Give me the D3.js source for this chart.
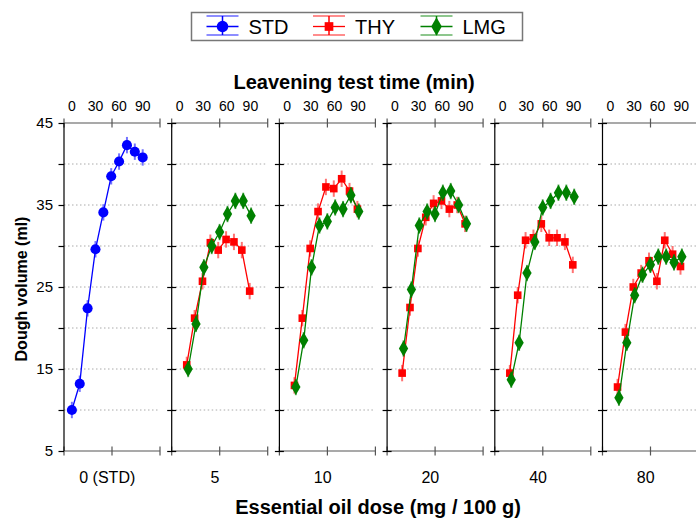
<!DOCTYPE html>
<html>
<head>
<meta charset="utf-8">
<script src="https://cdn.jsdelivr.net/npm/d3@7"></script>
<style>
  body { margin: 0; background: #fff; }
  svg { display: block; font-family: "Liberation Sans", Arial, sans-serif; }
</style>
</head>
<body>
<div id="chart"></div>
<script>
// data
const doses = ['0 (STD)', '5', '10', '20', '40', '80'];
const stdTimes = [0, 10, 20, 30, 40, 50, 60, 70, 80, 90];
const oilTimes = [10, 20, 30, 40, 50, 60, 70, 80, 90];
const timeTicks = [0, 30, 60, 90];
const volTicks = [5, 10, 15, 20, 25, 30, 35, 40, 45];
const volLabels = [5, 15, 25, 35, 45];

const stdVol = [10.0, 13.2, 22.4, 29.6, 34.1, 38.5, 40.3, 42.3, 41.5, 40.8];
// one row per oil dose (5, 10, 20, 40, 80)
const thyVol = [
    [15.5, 21.2, 25.7, 30.4, 29.5, 30.8, 30.5, 29.5, 24.5],
    [13.0, 21.2, 29.7, 34.2, 37.2, 37.0, 38.2, 36.7, 34.5],
    [14.5, 22.5, 29.7, 33.5, 35.2, 35.5, 34.5, 35.0, 32.7],
    [14.5, 24.0, 30.7, 31.0, 32.7, 31.0, 31.0, 30.5, 27.7],
    [12.8, 19.5, 25.0, 26.7, 28.2, 25.7, 30.7, 29.0, 27.5]
];
const lmgVol = [
    [15.0, 20.5, 27.4, 30.0, 31.7, 33.9, 35.5, 35.5, 33.7],
    [12.8, 18.5, 27.4, 32.5, 33.0, 34.7, 34.5, 36.2, 34.2],
    [17.5, 24.7, 32.5, 34.2, 33.9, 36.5, 36.7, 35.0, 32.7],
    [13.7, 18.2, 26.7, 30.5, 34.7, 35.5, 36.5, 36.5, 36.0],
    [11.5, 18.2, 24.0, 26.5, 27.7, 28.7, 28.7, 28.0, 28.7]
];
const errHalf = 1.0; // all bars look the same size

const series = [
    {name: 'STD', color: '#0000ff', shape: d3.symbolCircle, size: 80, dodge: 0},
    {name: 'THY', color: '#ff0000', shape: d3.symbolSquare, size: 58, dodge: -0.7},
    {name: 'LMG', color: '#008000', shape: d3.symbolDiamond, size: 75, dodge: 0.7}
];

const width = 696, height = 521;
const svg = d3.select('#chart').append('svg')
    .attr('width', width)
    .attr('height', height);

const panel = d3.scaleBand()
    .domain(doses)
    .range([64, 698.5])
    .paddingInner(0.1086)
    .paddingOuter(0);
const bw = panel.bandwidth();

const x = d3.scaleLinear().domain([-10, 112]).range([0, bw]);
const y = d3.scaleLinear().domain([5, 45]).range([451, 123]);

let drawSeries = (g, s, times, vals) => {
    let pts = times.map((t, i) => ({t, v: vals[i]}));
    let px = d => x(d.t) + s.dodge;
    g.append('path')
        .datum(pts)
        .attr('fill', 'none')
        .attr('stroke', s.color)
        .attr('stroke-width', 1.3)
        .attr('d', d3.line().x(px).y(d => y(d.v)));
    g.selectAll(null).data(pts).enter().append('line')
        .attr('x1', px).attr('x2', px)
        .attr('y1', d => y(d.v - errHalf))
        .attr('y2', d => y(d.v + errHalf))
        .attr('stroke', s.color)
        .attr('stroke-opacity', 0.55)
        .attr('stroke-width', 2);
    g.selectAll(null).data(pts).enter().append('path')
        .attr('transform', d => `translate(${px(d)},${y(d.v)})`)
        .attr('d', d3.symbol().type(s.shape).size(s.size))
        .attr('fill', s.color);
};

doses.forEach((dose, i) => {
    let g = svg.append('g').attr('transform', `translate(${panel(dose)},0)`);

    // dotted grid
    g.selectAll(null).data(volTicks.filter(v => v > 5 && v < 45)).enter().append('line')
        .attr('x1', 0).attr('x2', bw)
        .attr('y1', d => y(d)).attr('y2', d => y(d))
        .attr('stroke', '#aaaaaa')
        .attr('stroke-width', 1)
        .attr('stroke-dasharray', '1.5,2.5');

    // top and bottom frame lines with three ticks
    [y(45), y(5)].forEach(yy => {
        g.append('line')
            .attr('x1', 0).attr('x2', bw).attr('y1', yy).attr('y2', yy)
            .attr('stroke', '#555').attr('stroke-width', 1.2);
        g.selectAll(null).data([0, bw / 2, bw]).enter().append('line')
            .attr('x1', d => d).attr('x2', d => d)
            .attr('y1', yy - 4.5).attr('y2', yy + 4.5)
            .attr('stroke', '#555').attr('stroke-width', 1.2);
    });

    // left axis
    let ax = g.append('g').call(d3.axisLeft(y).tickValues(volTicks).tickSize(5)
        .tickFormat(d => (i === 0 && volLabels.includes(d)) ? d : ''));
    ax.select('.domain').remove();
    ax.selectAll('.tick line')
        .attr('x1', i === 0 ? 0 : 4.5)
        .attr('x2', i === 0 ? -5.5 : -4.5)
        .attr('stroke', '#000').attr('stroke-width', 1.2);
    ax.selectAll('.tick text')
        .attr('x', -11)
        .style('font-size', '15px')
        .style('font-family', '"Liberation Sans", Arial, sans-serif')
        .attr('fill', '#000');
    g.append('line')
        .attr('x1', 0).attr('x2', 0).attr('y1', y(45)).attr('y2', y(5))
        .attr('stroke', '#000').attr('stroke-width', 1.2);

    // top time labels
    g.selectAll(null).data(timeTicks).enter().append('text')
        .attr('x', d => x(d))
        .attr('y', 111)
        .attr('text-anchor', 'middle')
        .style('font-size', '14px')
        .text(d => d);

    // dose label
    g.append('text')
        .attr('x', x(45))
        .attr('y', 483)
        .attr('text-anchor', 'middle')
        .style('font-size', '16px')
        .text(dose);

    if (i === 0) {
        drawSeries(g, series[0], stdTimes, stdVol);
    } else {
        drawSeries(g, series[1], oilTimes, thyVol[i - 1]);
        drawSeries(g, series[2], oilTimes, lmgVol[i - 1]);
    }
});

// axis titles
svg.append('text')
    .attr('x', 354).attr('y', 89)
    .attr('text-anchor', 'middle')
    .style('font-size', '20px').style('font-weight', 'bold')
    .text('Leavening test time (min)');
svg.append('text')
    .attr('x', 378).attr('y', 514)
    .attr('text-anchor', 'middle')
    .style('font-size', '20px').style('font-weight', 'bold')
    .text('Essential oil dose (mg / 100 g)');
svg.append('text')
    .attr('transform', 'translate(27,289) rotate(-90)')
    .attr('text-anchor', 'middle')
    .style('font-size', '16px').style('font-weight', 'bold')
    .text('Dough volume (ml)');

// legend
let legend = svg.append('g');
legend.append('rect')
    .attr('x', 191.5).attr('y', 12.5)
    .attr('width', 331).attr('height', 28)
    .attr('fill', '#fff')
    .attr('stroke', '#777').attr('stroke-width', 1.5);
let legendX = [206.5, 313, 420.5];
series.forEach((s, i) => {
    let lg = legend.append('g').attr('transform', `translate(${legendX[i]},0)`);
    [16, 35].forEach(yy => {
        lg.append('line')
            .attr('x1', 0).attr('x2', 32).attr('y1', yy).attr('y2', yy)
            .attr('stroke', s.color).attr('stroke-opacity', 0.6).attr('stroke-width', 1.5);
    });
    lg.append('line')
        .attr('x1', 0).attr('x2', 32).attr('y1', 26.5).attr('y2', 26.5)
        .attr('stroke', s.color).attr('stroke-width', 1.3);
    lg.append('line')
        .attr('x1', 16).attr('x2', 16).attr('y1', 16).attr('y2', 35)
        .attr('stroke', s.color).attr('stroke-width', 1.5);
    lg.append('path')
        .attr('transform', 'translate(16,26.5)')
        .attr('d', d3.symbol().type(s.shape).size(s.size * 1.3))
        .attr('fill', s.color);
    lg.append('text')
        .attr('x', 42).attr('y', 33.5)
        .style('font-size', '20px')
        .text(s.name);
});
</script>
</body>
</html>
